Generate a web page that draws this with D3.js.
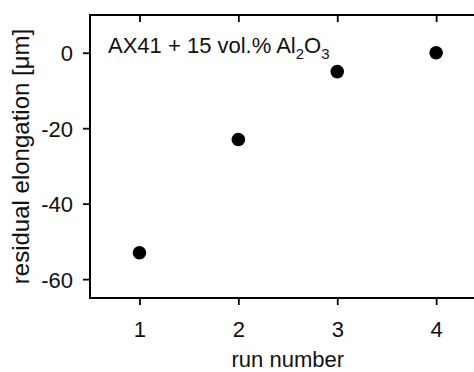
<!DOCTYPE html>
<html>
<head>
<meta charset="utf-8">
<script src="https://cdn.jsdelivr.net/npm/d3@7"></script>
<style>
    body { margin: 0; background: #fff; }
    text { font-family: "Liberation Sans", Arial, sans-serif; fill: #111; }
</style>
</head>
<body>
<svg id="chart"></svg>
<script>
// values
const runs = [1, 2, 3, 4];
const elongation = [-53, -23, -5, 0];
const yTicks = [0, -20, -40, -60];
const xTicks = [1, 2, 3, 4];

const width = 474, height = 372;
const margin = {top: 15, left: 90, bottom: 298};
const fontSize = "22px";

const svg = d3.select("#chart")
    .attr("width", width)
    .attr("height", height);

const xScale = d3.scaleLinear()
    .domain([0.5, 4.5])
    .range([margin.left, 485.6]);

const yScale = d3.scaleLinear()
    .domain([-65, 10])
    .range([margin.bottom, margin.top]);

// bottom axis, ticks outward
const xAxis = svg.append("g")
    .attr("transform", `translate(0, ${margin.bottom})`)
    .call(d3.axisBottom(xScale).tickValues(xTicks).tickSize(7).tickPadding(16).tickFormat(d3.format("d")));

// top axis, ticks inward, no labels
const xTop = svg.append("g")
    .attr("transform", `translate(0, ${margin.top})`)
    .call(d3.axisTop(xScale).tickValues(xTicks).tickSize(-7).tickFormat(""));

// left axis
const yAxis = svg.append("g")
    .attr("transform", `translate(${margin.left}, 0)`)
    .call(d3.axisLeft(yScale).tickValues(yTicks).tickSize(7).tickPadding(10).tickFormat(d => d));

[xAxis, xTop, yAxis].forEach(g => {
    g.select(".domain").remove();
    g.selectAll(".tick line").attr("stroke", "#000").attr("stroke-width", 1.8);
    g.selectAll("text").style("font-size", fontSize);
});
yAxis.selectAll("text").attr("dy", "0.36em");

// frame lines (right side is off-canvas)
svg.append("path")
    .attr("d", `M${xScale(4.5)},${margin.top}H${margin.left}V${margin.bottom}H${xScale(4.5)}`)
    .attr("fill", "none")
    .attr("stroke", "#000")
    .attr("stroke-width", 2);

// points
svg.append("g")
    .selectAll("circle")
    .data(runs.map((r, i) => ({run: r, value: elongation[i]})))
    .join("circle")
    .attr("cx", d => xScale(d.run))
    .attr("cy", d => yScale(d.value))
    .attr("r", 6.8)
    .attr("fill", "#000");

// axis titles
svg.append("text")
    .attr("x", (margin.left + xScale(4.5)) / 2)
    .attr("y", 367)
    .attr("text-anchor", "middle")
    .style("font-size", fontSize)
    .text("run number");

svg.append("text")
    .attr("transform", `translate(29, ${(margin.top + margin.bottom) / 2}) rotate(-90)`)
    .attr("text-anchor", "middle")
    .style("font-size", "24px")
    .text("residual elongation [\u03bcm]");

// annotation
const label = svg.append("text")
    .attr("x", 108)
    .attr("y", 53)
    .style("font-size", fontSize);
label.append("tspan").text("AX41 + 15 vol.% Al");
label.append("tspan").attr("dy", 6).style("font-size", "15px").text("2");
label.append("tspan").attr("dy", -6).text("O");
label.append("tspan").attr("dy", 6).style("font-size", "15px").text("3");
</script>
</body>
</html>
